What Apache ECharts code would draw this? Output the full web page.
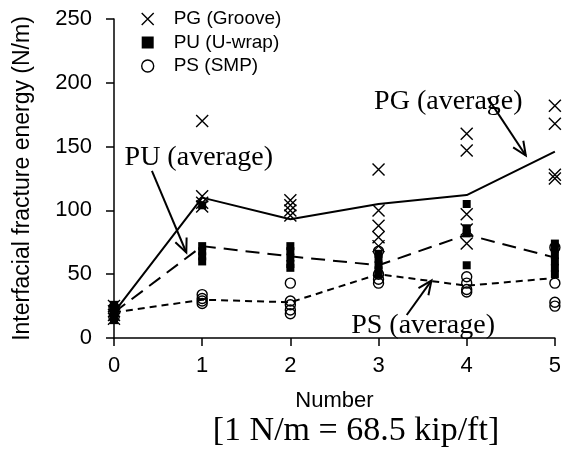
<!DOCTYPE html>
<html>
<head>
<meta charset="utf-8">
<script src="https://cdn.jsdelivr.net/npm/echarts@6/dist/echarts.min.js"></script>
<style>
  html, body { margin: 0; padding: 0; background: #fff; }
  #chart { width: 564px; height: 453px; }
</style>
</head>
<body>
<div id="chart"></div>
<script>
// Specimen counts on the x axis
const numbers = [0, 1, 2, 3, 4, 5];
const yTicks = [0, 50, 100, 150, 200, 250];

// Individual test results (N/m), one list per specimen count
const pgGroove = [
  [25, 21, 18, 15],
  [170, 111, 106, 103],
  [108, 104, 100, 96],
  [132, 100, 88, 79, 72],
  [160, 147, 97, 85, 74],
  [182, 168, 128, 125]
];
const puUwrap = [
  [26, 23, 20, 17, 14],
  [104, 72, 68, 64, 60],
  [72, 68, 63, 58, 55],
  [66, 62, 57, 53, 50],
  [105, 86, 82, 57],
  [74, 70, 65, 60, 55, 50]
];
const psSmp = [
  [24, 20, 16],
  [34, 31, 29, 27],
  [43, 29, 26, 22, 19],
  [68, 50, 46, 43],
  [48, 43, 38, 36],
  [71, 43, 28, 25]
];

// Average curves (N/m)
const pgAverage = [20, 110, 93, 105, 112, 146];
const puAverage = [20, 72, 64, 57, 81, 63];
const psAverage = [20, 30, 28, 50, 41, 47];

// Callout labels: text anchor and arrow tail/head in data units
const callouts = [
  { text: 'PG (average)', at: [2.95, 185], tail: [4.24, 188], head: [4.67, 143] },
  { text: 'PU (average)', at: [0.12, 141], tail: [0.43, 131], head: [0.82, 67] },
  { text: 'PS (average)', at: [2.69, 10], tail: [3.32, 18], head: [3.6, 45] }
];
const footnote = '[1 N/m = 68.5 kip/ft]';

function toPoints(groups) {
  const out = [];
  groups.forEach((vals, i) => vals.forEach(v => out.push([numbers[i], v])));
  return out;
}
function toLine(vals) {
  return vals.map((v, i) => [numbers[i], v]);
}

const crossPath = 'path://M0,0L10,10M10,0L0,10';
const sansFont = 'Liberation Sans, Arial, sans-serif';
const serifFont = 'Liberation Serif, Times New Roman, serif';

const chart = echarts.init(document.getElementById('chart'), null, { renderer: 'canvas' });

const option = {
  animation: false,
  backgroundColor: '#fff',
  grid: { left: 114, right: 7, top: 19, bottom: 115, containLabel: false },
  legend: {
    orient: 'vertical',
    left: 136,
    top: 4,
    itemWidth: 12,
    itemHeight: 12,
    itemGap: 3.5,
    textStyle: { fontFamily: sansFont, fontSize: 19, color: '#000', lineHeight: 20, padding: [0, 0, 0, 15] },
    data: [
      { name: 'PG (Groove)', icon: crossPath, itemStyle: { color: 'rgba(0,0,0,0)', borderColor: '#000', borderWidth: 1.4 } },
      { name: 'PU (U-wrap)', icon: 'rect', itemStyle: { color: '#000', borderWidth: 0 } },
      { name: 'PS (SMP)', icon: 'circle', itemStyle: { color: '#fff', borderColor: '#000', borderWidth: 1.4 } }
    ]
  },
  xAxis: {
    type: 'value',
    min: 0, max: 5, interval: 1,
    name: 'Number',
    nameLocation: 'middle',
    nameGap: 52,
    nameTextStyle: { fontFamily: sansFont, fontSize: 22, color: '#000' },
    axisLine: { lineStyle: { color: '#000', width: 1.5 } },
    axisTick: { show: true, inside: false, length: 8, lineStyle: { color: '#000', width: 1.5 } },
    axisLabel: { fontFamily: sansFont, fontSize: 22, color: '#000', margin: 17 },
    splitLine: { show: false }
  },
  yAxis: {
    type: 'value',
    min: yTicks[0], max: yTicks[yTicks.length - 1], interval: 50,
    name: 'Interfacial fracture energy (N/m)',
    nameLocation: 'middle',
    nameGap: 80,
    nameTextStyle: { fontFamily: sansFont, fontSize: 23, color: '#000' },
    axisLine: { show: true, lineStyle: { color: '#000', width: 1.5 } },
    axisTick: { show: true, inside: false, length: 8, lineStyle: { color: '#000', width: 1.5 } },
    axisLabel: { fontFamily: sansFont, fontSize: 22, color: '#000', margin: 22 },
    splitLine: { show: false }
  },
  series: [
    {
      name: 'PG (Groove)', type: 'scatter', data: toPoints(pgGroove),
      symbol: crossPath, symbolSize: 12,
      itemStyle: { color: 'rgba(0,0,0,0)', borderColor: '#000', borderWidth: 1.4, opacity: 1 },
      clip: false, z: 3
    },
    {
      name: 'PU (U-wrap)', type: 'scatter', data: toPoints(puUwrap),
      symbol: 'rect', symbolSize: 8,
      itemStyle: { color: '#000', opacity: 1 },
      clip: false, z: 3
    },
    {
      name: 'PS (SMP)', type: 'scatter', data: toPoints(psSmp),
      symbol: 'circle', symbolSize: 10,
      itemStyle: { color: 'rgba(0,0,0,0)', borderColor: '#000', borderWidth: 1.4, opacity: 1 },
      clip: false, z: 3
    },
    {
      name: 'PG average', type: 'line', data: toLine(pgAverage), symbol: 'none',
      lineStyle: { color: '#000', width: 2, type: 'solid' }, z: 4
    },
    {
      name: 'PU average', type: 'line', data: toLine(puAverage), symbol: 'none',
      lineStyle: { color: '#000', width: 2, type: [14, 8] }, z: 4
    },
    {
      name: 'PS average', type: 'line', data: toLine(psAverage), symbol: 'none',
      lineStyle: { color: '#000', width: 2, type: [7, 5] }, z: 4
    }
  ]
};

chart.setOption(option);

// Callout labels and arrows, placed through the grid's coordinate system
function arrowShapes(tail, head) {
  const p0 = chart.convertToPixel({ gridIndex: 0 }, tail);
  const p1 = chart.convertToPixel({ gridIndex: 0 }, head);
  const dx = p1[0] - p0[0], dy = p1[1] - p0[1];
  const len = Math.sqrt(dx * dx + dy * dy);
  const ux = dx / len, uy = dy / len;
  const hl = 15, ang = 24 * Math.PI / 180;
  const wing = s => [
    p1[0] - hl * (ux * Math.cos(ang) - s * uy * Math.sin(ang)),
    p1[1] - hl * (uy * Math.cos(ang) + s * ux * Math.sin(ang))
  ];
  return [
    { type: 'line', shape: { x1: p0[0], y1: p0[1], x2: p1[0], y2: p1[1] },
      style: { stroke: '#000', lineWidth: 2 }, z: 10 },
    { type: 'polyline', shape: { points: [wing(1), p1, wing(-1)] },
      style: { stroke: '#000', lineWidth: 2, fill: null }, z: 10 }
  ];
}

const graphics = [];
callouts.forEach(c => {
  const p = chart.convertToPixel({ gridIndex: 0 }, c.at);
  graphics.push({
    type: 'text', x: p[0], y: p[1], z: 10,
    style: { text: c.text, font: '28px ' + serifFont, fill: '#000', textAlign: 'left', textVerticalAlign: 'middle' }
  });
  arrowShapes(c.tail, c.head).forEach(g => graphics.push(g));
});
graphics.push({
  type: 'text', x: 356, y: 431, z: 10,
  style: { text: footnote, font: '34px ' + serifFont, fill: '#000', textAlign: 'center', textVerticalAlign: 'middle' }
});

chart.setOption({ graphic: graphics });
</script>
</body>
</html>
